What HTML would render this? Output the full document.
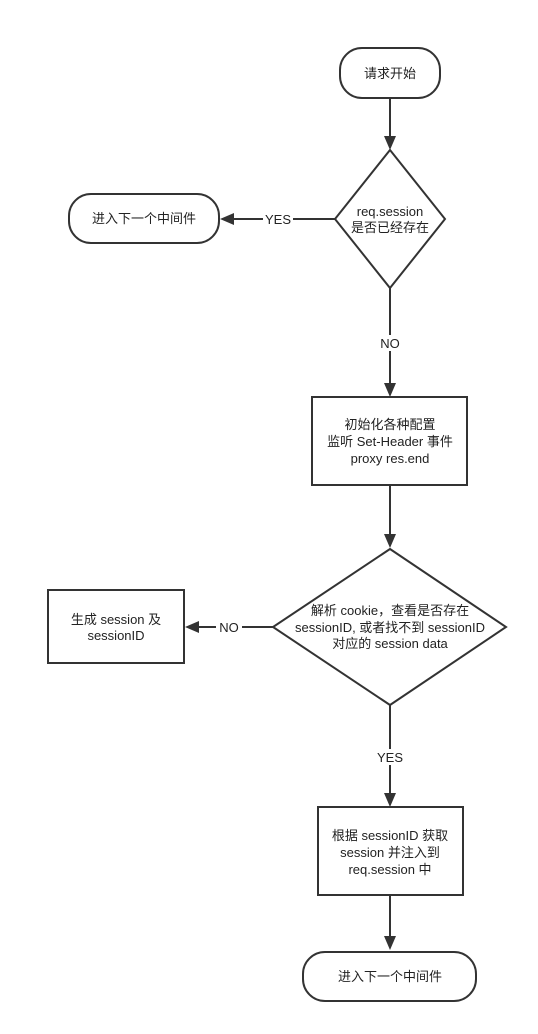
<!DOCTYPE html>
<html><head><meta charset="utf-8"><style>
html,body{margin:0;padding:0;background:#fff;}
svg{display:block;}
text{font-family:"Liberation Sans","Noto Sans CJK SC",sans-serif;font-size:13px;fill:#222;text-anchor:middle;}
.s{fill:#fff;stroke:#333;stroke-width:2;}
.l{stroke:#333;stroke-width:2;fill:none;}
.a{fill:#333;}
</style></head><body>
<svg width="538" height="1034" viewBox="0 0 538 1034">
<rect class="s" x="340" y="48" width="100" height="50" rx="22"/>
<text x="390" y="78">请求开始</text>
<line class="l" x1="390" y1="98" x2="390" y2="138"/>
<polygon class="a" points="384,136 396,136 390,150"/>
<polygon class="s" points="390,150 445,219 390,288 335,219"/>
<text x="390" y="216">req.session</text>
<text x="390" y="232">是否已经存在</text>
<line class="l" x1="335" y1="219" x2="232" y2="219"/>
<polygon class="a" points="234,213 234,225 220,219"/>
<rect x="263" y="211" width="30" height="16" fill="#fff"/>
<text x="278" y="224">YES</text>
<rect class="s" x="69" y="194" width="150" height="49" rx="22"/>
<text x="144" y="223">进入下一个中间件</text>
<line class="l" x1="390" y1="288" x2="390" y2="385"/>
<polygon class="a" points="384,383 396,383 390,397"/>
<rect x="376" y="335" width="28" height="16" fill="#fff"/>
<text x="390" y="348">NO</text>
<rect class="s" x="312" y="397" width="155" height="88"/>
<text x="390" y="429">初始化各种配置</text>
<text x="390" y="446">监听 Set-Header 事件</text>
<text x="390" y="463">proxy res.end</text>
<line class="l" x1="390" y1="485" x2="390" y2="536"/>
<polygon class="a" points="384,534 396,534 390,548"/>
<polygon class="s" points="390,549 506,627 390,705 273,627"/>
<text x="390" y="615">解析 cookie，查看是否存在</text>
<text x="390" y="632">sessionID, 或者找不到 sessionID</text>
<text x="390" y="648">对应的 session data</text>
<line class="l" x1="273" y1="627" x2="197" y2="627"/>
<polygon class="a" points="199,621 199,633 185,627"/>
<rect x="216" y="619" width="26" height="16" fill="#fff"/>
<text x="229" y="632">NO</text>
<rect class="s" x="48" y="590" width="136" height="73"/>
<text x="116" y="624">生成 session 及</text>
<text x="116" y="640">sessionID</text>
<line class="l" x1="390" y1="705" x2="390" y2="795"/>
<polygon class="a" points="384,793 396,793 390,807"/>
<rect x="374" y="749" width="32" height="16" fill="#fff"/>
<text x="390" y="762">YES</text>
<rect class="s" x="318" y="807" width="145" height="88"/>
<text x="390" y="840">根据 sessionID 获取</text>
<text x="390" y="857">session 并注入到</text>
<text x="390" y="874">req.session 中</text>
<line class="l" x1="390" y1="895" x2="390" y2="938"/>
<polygon class="a" points="384,936 396,936 390,950"/>
<rect class="s" x="303" y="952" width="173" height="49" rx="22"/>
<text x="390" y="981">进入下一个中间件</text>
</svg>
</body></html>
